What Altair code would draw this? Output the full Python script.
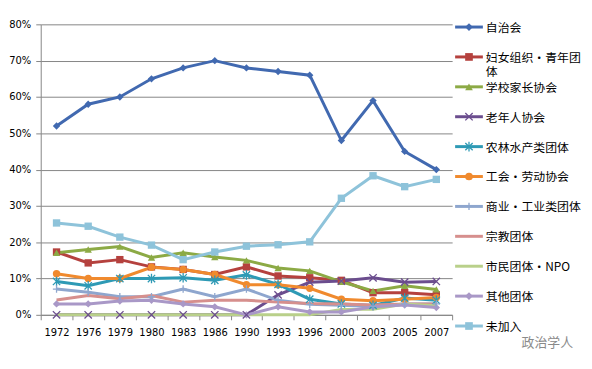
import altair as alt
import pandas as pd

years = ["1972", "1976", "1979", "1980", "1983", "1986", "1990",
         "1993", "1996", "2000", "2003", "2005", "2007"]

series = ["自治会", "妇女组织·青年团体", "学校家长协会", "老年人协会", "农林水产类团体",
          "工会·劳动协会", "商业·工业类团体", "宗教团体", "市民团体·NPO", "其他团体", "未加入"]

v_zizhihui = [52, 58, 60, 65, 68, 70, 68, 67, 66, 48, 59, 45, 40]
v_funv = [17.3, 14.3, 15.2, 13.2, 12.5, 11.1, 13.2, 10.7, 10.2, 9.5, 6.1, 6.1, 5.5]
v_xuexiao = [17.1, 18, 18.8, 15.8, 17.1, 15.9, 15, 12.9, 12.1, 9.1, 6.6, 8, 7]
v_laonian = [0, 0, 0, 0, 0, 0, 0, 5.5, 9, 9.3, 10.2, 9, 9.2]
v_nonglin = [9.2, 8, 10, 10, 10.2, 9.5, 11, 8.4, 4.3, 3, 2.6, 4.6, 4]
v_gonghui = [11.3, 10, 10, 13.1, 12.5, 11.1, 8.3, 8.3, 7.3, 4.3, 3.9, 4.3, 4.8]
v_shangye = [7.1, 6.2, 5, 5, 7.1, 5, 7.1, 4, 2.9, 2.6, 2.3, 3, 3]
v_zongjiao = [4.1, 5.3, 4.4, 5.3, 3.5, 4, 4, 3.5, 3.1, 3, 2.7, 3, 3]
v_shimin = [0, 0, 0, 0, 0, 0, 0, 0, 0, 1.5, 1.5, 3, 2.5]
v_qita = [3, 3, 3.8, 4, 3, 2.2, 0, 2.2, 0.8, 0.8, 2.2, 2.7, 2]
v_weijiaru = [25.3, 24.4, 21.4, 19.2, 15.2, 17.3, 18.9, 19.3, 20.1, 32.1, 38.3, 35.3, 37.3]

values = [v_zizhihui, v_funv, v_xuexiao, v_laonian, v_nonglin, v_gonghui,
          v_shangye, v_zongjiao, v_shimin, v_qita, v_weijiaru]

colors = ["#4169B0", "#B5413E", "#8CAA45", "#6B4D8E", "#2E9AB5", "#F08A2E",
          "#8EA6CE", "#D68F8D", "#B9D08A", "#A998C7", "#8EC3DA"]

filled_series = ["自治会", "妇女组织·青年团体", "学校家长协会", "工会·劳动协会", "其他团体", "未加入"]
filled_shapes = ["diamond", "square", "triangle-up", "circle", "diamond", "square"]
stroke_series = ["老年人协会", "农林水产类团体", "商业·工业类团体"]
stroke_shapes = ["M-1,-1L1,1M-1,1L1,-1",
                 "M-1,-1L1,1M-1,1L1,-1M0,-1.3L0,1.3",
                 "M0,-1L0,1M-1,0L1,0"]

rows = []
for s, vals in zip(series, values):
    for yr, v in zip(years, vals):
        rows.append({"series": s, "year": yr, "value": v})
df = pd.DataFrame(rows)

FONT_NUM = "DejaVu Sans"
FONT_CJK = "Noto Sans CJK SC"
GRID = "#868686"

color_enc = alt.Color("series:N", scale=alt.Scale(domain=series, range=colors), legend=None)

x_enc = alt.X("year:O", sort=years,
              scale=alt.Scale(type="band", paddingInner=0, paddingOuter=0),
              axis=alt.Axis(title=None, labelAngle=0, tickBand="extent", tickSize=5,
                            labelPadding=8, labelFont=FONT_NUM, labelFontSize=10,
                            labelColor="#000000", domainColor=GRID, tickColor=GRID,
                            grid=False))
y_enc = alt.Y("value:Q", scale=alt.Scale(domain=[0, 80], nice=False),
              axis=alt.Axis(title=None, values=[0, 10, 20, 30, 40, 50, 60, 70, 80],
                            labelExpr="datum.value + '%'", tickSize=5, labelPadding=5,
                            labelFont=FONT_NUM, labelFontSize=10, labelColor="#000000",
                            grid=True, gridColor=GRID, gridWidth=1,
                            domainColor=GRID, tickColor=GRID))

base = alt.Chart(df).encode(x=x_enc, y=y_enc, color=color_enc)

lines = base.mark_line(strokeWidth=3)
pts_f = base.transform_filter(
    alt.FieldOneOfPredicate(field="series", oneOf=filled_series)
).mark_point(filled=True, size=55, opacity=1).encode(
    shape=alt.Shape("series:N", scale=alt.Scale(domain=filled_series, range=filled_shapes), legend=None)
)
pts_s = base.transform_filter(
    alt.FieldOneOfPredicate(field="series", oneOf=stroke_series)
).mark_point(filled=False, size=55, strokeWidth=1.3, opacity=1).encode(
    shape=alt.Shape("series:N", scale=alt.Scale(domain=stroke_series, range=stroke_shapes), legend=None)
)

main = alt.layer(lines, pts_f, pts_s).resolve_scale(shape="independent").properties(
    width=415, height=293)

# legend panel
labels = [s if s != "妇女组织·青年团体" else "妇女组织·青年团\n体" for s in series]
leg_df = pd.DataFrame({"series": series, "label": labels})

ly = alt.Y("series:N", sort=series, scale=alt.Scale(type="point", padding=0.09), axis=None)
lbase = alt.Chart(leg_df).encode(y=ly, color=color_enc)

l_rule = lbase.mark_rule(strokeWidth=3).encode(x=alt.value(0), x2=alt.value(28))
l_pf = lbase.transform_filter(
    alt.FieldOneOfPredicate(field="series", oneOf=filled_series)
).mark_point(filled=True, size=60, opacity=1).encode(
    x=alt.value(14),
    shape=alt.Shape("series:N", scale=alt.Scale(domain=filled_series, range=filled_shapes), legend=None)
)
l_ps = lbase.transform_filter(
    alt.FieldOneOfPredicate(field="series", oneOf=stroke_series)
).mark_point(filled=False, size=55, strokeWidth=1.3, opacity=1).encode(
    x=alt.value(14),
    shape=alt.Shape("series:N", scale=alt.Scale(domain=stroke_series, range=stroke_shapes), legend=None)
)
l_text = alt.Chart(leg_df).mark_text(
    align="left", baseline="alphabetic", dy=5, lineBreak="\n", font=FONT_CJK,
    fontSize=12, color="#000000", lineHeight=14
).encode(y=ly, x=alt.value(31), text="label:N")

watermark = alt.Chart(pd.DataFrame({"t": ["政治学人"]})).mark_text(
    align="center", baseline="middle", font=FONT_CJK, fontSize=13, color="#8a8a8a"
).encode(x=alt.value(93), y=alt.value(321), text="t:N")

legend_panel = alt.layer(l_rule, l_pf, l_ps, l_text, watermark).resolve_scale(
    shape="independent").properties(width=130, height=307)

chart = alt.hconcat(main, legend_panel, spacing=0).properties(
    padding={"left": 0, "top": 10, "right": 0, "bottom": 0}
).configure_view(stroke=None)

chart.save("out.html", embed_options={"renderer": "svg", "actions": False})
